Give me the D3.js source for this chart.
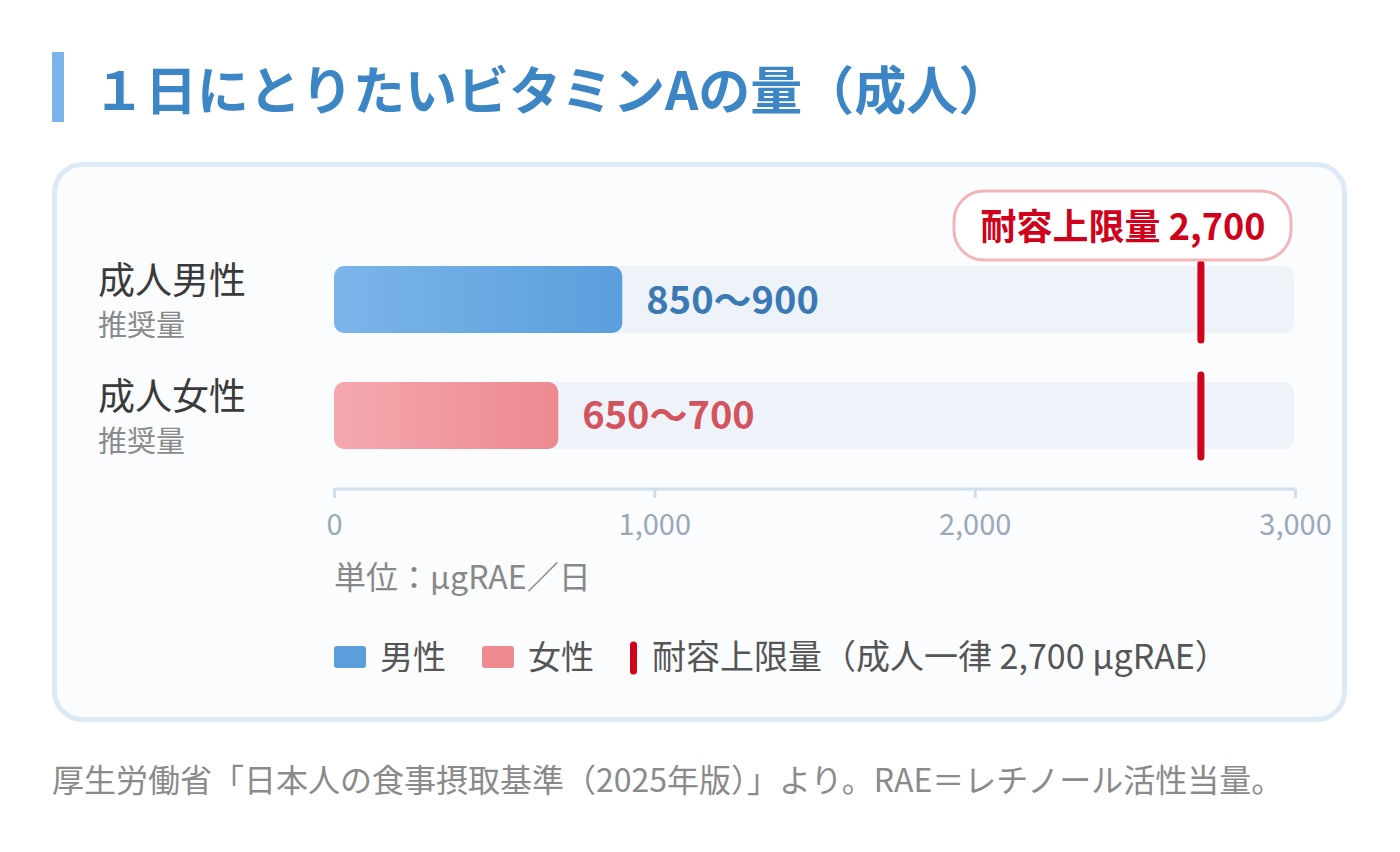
<!DOCTYPE html>
<html lang="ja">
<head>
<meta charset="utf-8">
<script src="https://cdn.jsdelivr.net/npm/d3@7"></script>
<style>
  html, body { margin: 0; padding: 0; background: #ffffff; }
  svg { display: block; font-family: "Noto Sans CJK JP", "Noto Sans", sans-serif; }
</style>
</head>
<body>
<div id="chart"></div>
<script>
// data
var groups = ["成人男性", "成人女性"];
var subLabels = ["推奨量", "推奨量"];
var lowValues = [850, 650];
var highValues = [900, 700];
var valueLabels = ["850〜900", "650〜700"];
var upperLimit = 2700;
var tickValues = [0, 1000, 2000, 3000];
var legendLabels = ["男性", "女性", "耐容上限量（成人一律 2,700 μgRAE）"];

var W = 1400, H = 852;
var colors = {
  title: "#3d86c6",
  male: ["#7bb5ea", "#5b9edc"],
  female: ["#f4a8ae", "#ee8990"],
  maleText: "#3a79b4",
  femaleText: "#d2545f",
  limit: "#d0021b",
  track: "#eef3f9"
};

var svg = d3.select("#chart").append("svg")
  .attr("width", W)
  .attr("height", H);

var defs = svg.append("defs");
[["gMale", colors.male], ["gFemale", colors.female]].forEach(function (g) {
  var lg = defs.append("linearGradient").attr("id", g[0])
    .attr("x1", "0%").attr("x2", "100%").attr("y1", "0%").attr("y2", "0%");
  lg.append("stop").attr("offset", "0%").attr("stop-color", g[1][0]);
  lg.append("stop").attr("offset", "100%").attr("stop-color", g[1][1]);
});

// title
svg.append("rect").attr("x", 52).attr("y", 52).attr("width", 12).attr("height", 70).attr("fill", "#7ab4e8");
svg.append("text").attr("x", 93).attr("y", 110)
  .attr("font-size", 52).attr("font-weight", 700).attr("fill", colors.title)
  .text("１日にとりたいビタミンAの量（成人）");

// card
svg.append("rect").attr("x", 54.5).attr("y", 164.5).attr("width", 1290).attr("height", 555)
  .attr("rx", 28).attr("fill", "#fafcfe").attr("stroke", "#dde9f5").attr("stroke-width", 5);

var x = d3.scaleLinear().domain([0, 3000]).range([334, 1295]);
var y = d3.scaleBand().domain(groups).range([266, 449]).paddingInner(0.4224).paddingOuter(0);
var bh = y.bandwidth();

var rows = svg.selectAll("g.row").data(groups).enter().append("g").attr("class", "row");

rows.append("rect")
  .attr("x", x(0)).attr("y", function (d) { return y(d); })
  .attr("width", x(3000) - x(0) - 1).attr("height", bh)
  .attr("rx", 10).attr("fill", colors.track);

rows.append("rect")
  .attr("x", x(0)).attr("y", function (d) { return y(d); })
  .attr("width", function (d, i) { return x(highValues[i]) - x(0); })
  .attr("height", bh).attr("rx", 10)
  .attr("fill", function (d, i) { return i === 0 ? "url(#gMale)" : "url(#gFemale)"; });

rows.append("text")
  .attr("x", function (d, i) { return x(highValues[i]) + 24; })
  .attr("y", function (d) { return y(d) + bh / 2 + 14; })
  .attr("font-size", 38).attr("font-weight", 700)
  .attr("fill", function (d, i) { return i === 0 ? colors.maleText : colors.femaleText; })
  .text(function (d, i) { return valueLabels[i]; });

rows.append("text")
  .attr("x", 98).attr("y", function (d) { return y(d) + 28; })
  .attr("font-size", 37).attr("fill", "#3a3a3a")
  .text(function (d) { return d; });

rows.append("text")
  .attr("x", 98).attr("y", function (d, i) { return y(d) + 70; })
  .attr("font-size", 29).attr("fill", "#8a8a8a")
  .text(function (d, i) { return subLabels[i]; });

// upper limit lines
var lx = x(upperLimit) + 2;
svg.append("line").attr("x1", lx).attr("x2", lx).attr("y1", 264).attr("y2", 340)
  .attr("stroke", colors.limit).attr("stroke-width", 7).attr("stroke-linecap", "round");
svg.append("line").attr("x1", lx).attr("x2", lx).attr("y1", y(groups[1]) - 7).attr("y2", y(groups[1]) + bh + 8)
  .attr("stroke", colors.limit).attr("stroke-width", 7).attr("stroke-linecap", "round");

// callout
svg.append("rect").attr("x", 954).attr("y", 191).attr("width", 337).attr("height", 69)
  .attr("rx", 30).attr("fill", "#ffffff").attr("stroke", "#f2b6b9").attr("stroke-width", 3);
svg.append("text").attr("x", 1123).attr("y", 240).attr("text-anchor", "middle")
  .attr("font-size", 36).attr("font-weight", 700).attr("fill", colors.limit)
  .text("耐容上限量 " + d3.format(",")(upperLimit));

// axis
var axis = svg.append("g").attr("transform", "translate(0,489)")
  .call(d3.axisBottom(x).tickValues(tickValues).tickFormat(d3.format(",")).tickSize(9).tickSizeOuter(0).tickPadding(16));
axis.select(".domain").attr("stroke", "#cfdeed").attr("stroke-width", 3).attr("d", "M" + x(0) + ",0H" + x(3000));
axis.selectAll(".tick line").attr("stroke", "#cfdeed").attr("stroke-width", 3);
axis.selectAll(".tick text").attr("font-size", 29).attr("fill", "#9aa9b9")
  .attr("font-family", "'Noto Sans CJK JP', sans-serif");

svg.append("text").attr("x", 334).attr("y", 589)
  .attr("font-size", 32).attr("fill", "#888888")
  .text("単位：μgRAE／日");

// legend
var lg = svg.append("g").attr("transform", "translate(0,657)");
lg.append("rect").attr("x", 334).attr("y", -11).attr("width", 32).attr("height", 22).attr("rx", 3).attr("fill", colors.male[1]);
lg.append("text").attr("x", 380).attr("y", 12).attr("font-size", 33).attr("fill", "#555555").text(legendLabels[0]);
lg.append("rect").attr("x", 482).attr("y", -11).attr("width", 32).attr("height", 22).attr("rx", 3).attr("fill", colors.female[1]);
lg.append("text").attr("x", 528).attr("y", 12).attr("font-size", 33).attr("fill", "#555555").text(legendLabels[1]);
lg.append("line").attr("x1", 633.5).attr("x2", 633.5).attr("y1", -12).attr("y2", 14)
  .attr("stroke", colors.limit).attr("stroke-width", 7).attr("stroke-linecap", "round");
lg.append("text").attr("x", 652).attr("y", 12).attr("font-size", 34).attr("fill", "#555555").text(legendLabels[2]);

// footnote
svg.append("text").attr("x", 52).attr("y", 792)
  .attr("font-size", 32).attr("fill", "#8a8a8a")
  .text("厚生労働省「日本人の食事摂取基準（2025年版）」より。RAE＝レチノール活性当量。");
</script>
</body>
</html>
